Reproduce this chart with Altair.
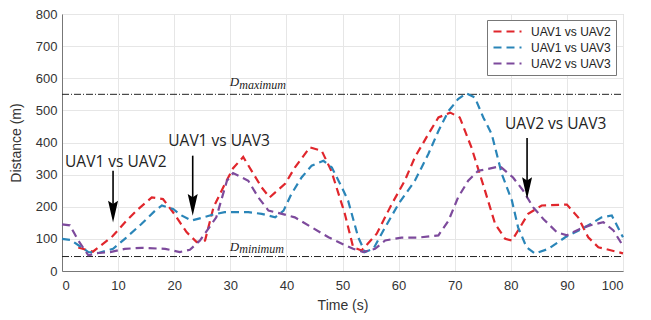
import altair as alt
import pandas as pd

series_names = ["UAV1 vs UAV2", "UAV1 vs UAV3", "UAV2 vs UAV3"]
series_colors = ["#e0262c", "#2a85b8", "#7d4a9c"]

# UAV1 vs UAV2 (red)
t_12 = [2.9, 5.5, 9, 11.5, 13.6, 16, 18, 20, 22.2, 24, 25.5, 27, 29, 30.5, 32.3, 35.6, 37,
        39.8, 41.5, 44.2, 46.3, 48, 50.4, 51.9, 53.4, 56.1, 58.8, 61.1, 62.9, 65.3, 67.1,
        69.2, 70.9, 73, 75.4, 77.2, 79, 80.2, 81.3, 83.1, 85.5, 90, 92, 93.8, 95.6, 100]
d_12 = [73, 60, 108, 157, 193, 229, 224, 178, 121, 90, 95, 198, 270, 320, 355, 260, 229,
        272, 322, 385, 374, 312, 179, 74, 64, 116, 209, 281, 354, 426, 478,
        493, 478, 384, 250, 147, 100, 95, 126, 178, 204, 207, 167, 105, 74, 55]

# UAV1 vs UAV3 (blue)
t_13 = [0, 1.5, 3.2, 4.7, 6.5, 9.1, 11.2, 14.2, 16.6, 17.8, 19.8, 21.3, 23.1, 25.2, 27, 29,
        33.2, 35.6, 38, 39.5, 40.9, 42.7, 44.5, 46.6, 48.1, 49.9, 51, 52.8, 54, 55.5, 57.6,
        60, 62.9, 65.3, 67.1, 68.9, 70.6, 72.1, 73.6, 75.1, 76.6, 78.4, 80.2, 81.3, 82.8,
        84.3, 86.7, 89.7, 93.2, 96.2, 98, 100]
d_13 = [100, 97, 77, 59, 56, 69, 100, 147, 188, 204, 193, 173, 157, 167, 176, 183,
        183, 178, 167, 188, 240, 291, 328, 343, 322, 260, 219, 105, 59, 69, 136,
        209, 281, 364, 436, 498, 535, 553, 540, 478, 426, 302, 219, 136, 74,
        54, 69, 105, 136, 167, 173, 105]

# UAV2 vs UAV3 (purple)
t_23 = [0, 1.4, 2.9, 4.7, 6.5, 8.6, 11.2, 14.2, 18.4, 21, 22.8, 24.6, 27.5, 29.4, 30.5,
        33.2, 35, 36.8, 39.2, 41.5, 44.5, 47.5, 49.9, 51.9, 53.7, 55.8, 57.6, 60.5, 63.5,
        67.1, 68.9, 70.6, 72.4, 74.2, 76, 78.1, 80.4, 82.2, 83.1, 84, 85.8, 88.2, 90, 92.3,
        94.1, 96.5, 98.3, 100]
d_23 = [145, 142, 95, 49, 56, 59, 69, 72, 69, 59, 66, 95, 167, 281, 305,
        281, 229, 188, 178, 167, 136, 105, 85, 69, 59, 69, 95, 104, 104,
        111, 157, 229, 281, 312, 318, 326, 291, 250, 224, 198, 162, 121, 111, 131,
        142, 152, 126, 78]

x_ticks = list(range(0, 101, 10))
y_ticks = list(range(0, 801, 100))

d_max = 550
d_min = 45

ann_text = ["UAV1 vs UAV2", "UAV1 vs UAV3", "UAV2 vs UAV3"]
ann_text_t = [9.6, 28.0, 88.0]
ann_text_d = [340, 405, 458]
arrow_t = [9.1, 23.3, 82.9]
arrow_top = [312, 359, 414]
arrow_head = [185, 206, 258]

rows = []
for name, ts, ds in zip(series_names, [t_12, t_13, t_23], [d_12, d_13, d_23]):
    for i, (t, d) in enumerate(zip(ts, ds)):
        rows.append({"series": name, "t": t, "d": d, "i": i})
df = pd.DataFrame(rows)

xs = alt.Scale(domain=[0, 100], nice=False, zero=False)
ys = alt.Scale(domain=[0, 800], nice=False)
xaxis = alt.Axis(title="Time (s)", values=x_ticks, format="d", grid=True, ticks=False,
                 labelPadding=8, titlePadding=6)
yaxis = alt.Axis(title="Distance (m)", values=y_ticks, format="d", grid=True, ticks=False,
                 labelPadding=5, titlePadding=12)


def X(f="t"):
    return alt.X(f"{f}:Q", scale=xs, axis=xaxis)


def Y(f="d"):
    return alt.Y(f"{f}:Q", scale=ys, axis=yaxis)


lines = alt.Chart(df).mark_line(strokeDash=[8, 5], strokeWidth=2.2).encode(
    x=X(), y=Y(),
    order="i:Q",
    color=alt.Color("series:N", scale=alt.Scale(domain=series_names, range=series_colors),
                    legend=alt.Legend(title=None, orient="none", legendX=425, legendY=6,
                                      symbolType="stroke", symbolDash=[8, 5],
                                      symbolStrokeWidth=2.2, symbolSize=784,
                                      clipHeight=13, rowPadding=3,
                                      labelFontSize=12, labelFont="Liberation Sans",
                                      labelColor="#222", strokeColor="#777",
                                      fillColor="white", padding=5,
                                      labelOffset=8)),
)

thr = pd.DataFrame({"t": [0, 0], "t2": [100, 100], "d": [d_max, d_min]})
thr_rules = alt.Chart(thr).mark_rule(color="#222", strokeWidth=1, strokeDash=[7, 2, 1, 2]).encode(
    x=X(), x2="t2:Q", y=Y())

dlab = pd.DataFrame({"t": [29.9, 29.9], "d": [575, 63]})
dsub = pd.DataFrame({"t": [31.6, 31.6], "d": [568, 57], "txt": ["maximum", "minimum"]})
d_main = alt.Chart(dlab).mark_text(text="D", fontStyle="italic", font="Liberation Serif",
                                   fontSize=13, align="left", baseline="alphabetic",
                                   color="#222").encode(x=X(), y=Y())
d_subs = alt.Chart(dsub).mark_text(fontStyle="italic", font="Liberation Serif", fontSize=12,
                                   align="left", baseline="alphabetic", color="#222").encode(
    x=X(), y=Y(), text="txt:N")

arr = pd.DataFrame({"t": arrow_t, "d": arrow_top, "d2": arrow_head})
arrow_lines = alt.Chart(arr).mark_rule(color="black", strokeWidth=1.6).encode(
    x=X(), y=Y(), y2="d2:Q")
heads = pd.DataFrame({"t": arrow_t, "d": arrow_head})
arrow_heads = alt.Chart(heads).mark_point(
    shape="M0,1 L-0.46,-1 L0,-0.7 L0.46,-1 Z", filled=True, color="black", opacity=1,
    size=470).encode(x=X(), y=Y())

ann = pd.DataFrame({"t": ann_text_t, "d": ann_text_d, "txt": ann_text})
ann_labels = alt.Chart(ann).mark_text(font="Open Sans", fontSize=15.5, color="#222",
                                      align="center", baseline="middle").encode(
    x=X(), y=Y(), text="txt:N")

chart = alt.layer(thr_rules, lines, d_main, d_subs, arrow_lines, arrow_heads, ann_labels).properties(
    width=561, height=257,
    autosize=alt.AutoSizeParams(type="none"),
    padding={"left": 54, "top": 6, "right": 12, "bottom": 47},
    background="white",
).configure_view(stroke="#c8c8c8", strokeWidth=1).configure_axis(
    gridColor="#e6e6e6", domainColor="#777", labelFont="Liberation Sans", labelFontSize=13,
    labelColor="#333", titleFont="Liberation Sans", titleFontSize=14, titleFontWeight="normal",
    titleColor="#333",
)

chart.save("out.html", embed_options={"renderer": "svg", "actions": False})
